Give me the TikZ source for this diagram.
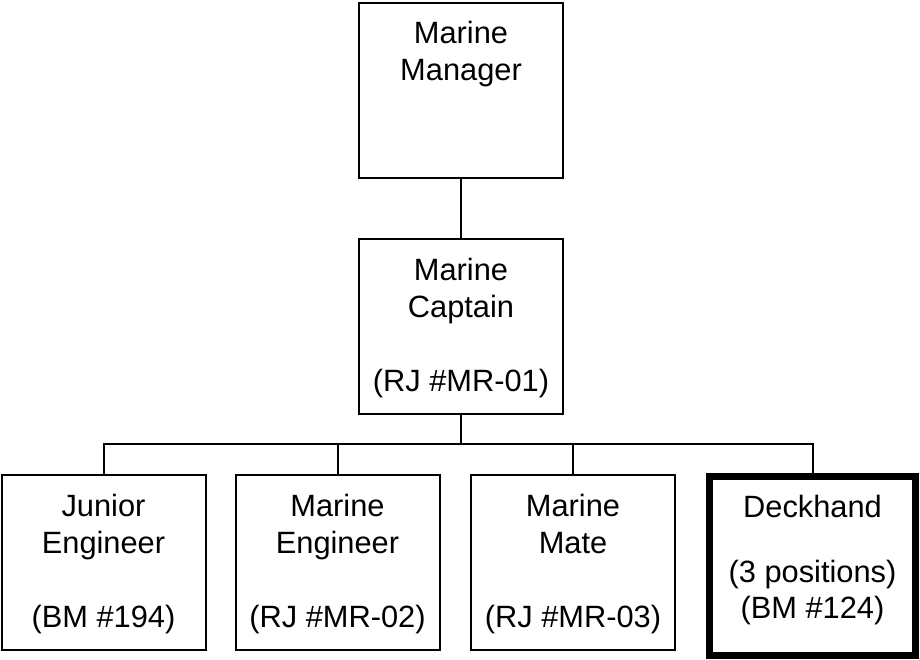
\documentclass[tikz,border=0pt]{standalone}
\usepackage{fontspec}
\setmainfont{Liberation Sans}
\usetikzlibrary{calc}

\newcommand{\jobtitle}[3]{\parbox[c][#2][t]{#1}{\centering\rule{0pt}{20.5pt}#3}}

\tikzset{
    post/.style={draw, line width=1pt, inner sep=0pt, outer sep=0pt,
        font=\fontsize{15.4}{18.5}\selectfont},
    keypost/.style={post, line width=3.5pt}
}

\begin{document}
\begin{tikzpicture}[x=0.5pt, y=-0.5pt]
            \useasboundingbox (0, 0) rectangle (920, 659);
            \node[post] (mgr) at (461, 90) {\jobtitle{102pt}{87.5pt}{Marine\\Manager}};
            \node[post] (capt) at (461, 326.5) {\jobtitle{102pt}{87.5pt}{Marine\\Captain\\[18.5pt](RJ \#MR-01)}};
            \node[post] (jun) at (103.5, 562.5) {\jobtitle{102pt}{87.5pt}{Junior\\Engineer\\[18.5pt](BM \#194)}};
            \node[post] (meng) at (337.5, 562.5) {\jobtitle{102pt}{87.5pt}{Marine\\Engineer\\[18.5pt](RJ \#MR-02)}};
            \node[post] (mate) at (573, 562.5) {\jobtitle{102pt}{87.5pt}{Marine\\Mate\\[18.5pt](RJ \#MR-03)}};
            \node[keypost] (deck) at (812.5, 566) {\jobtitle{103pt}{89.5pt}{Deckhand\\[14pt](3 positions)\\[-0.5pt](BM \#124)}};
            \coordinate (bus) at (461, 444);
            \draw[line width=1pt] (mgr) -- (capt);
            \draw[line width=1pt] (capt) -- (bus);
            \draw[line width=1pt] (jun.north) |- (bus) -| (deck.north);
            \draw[line width=1pt] (meng.north) -- (meng.north |- bus);
            \draw[line width=1pt] (mate.north) -- (mate.north |- bus);
        \end{tikzpicture}
\end{document}
